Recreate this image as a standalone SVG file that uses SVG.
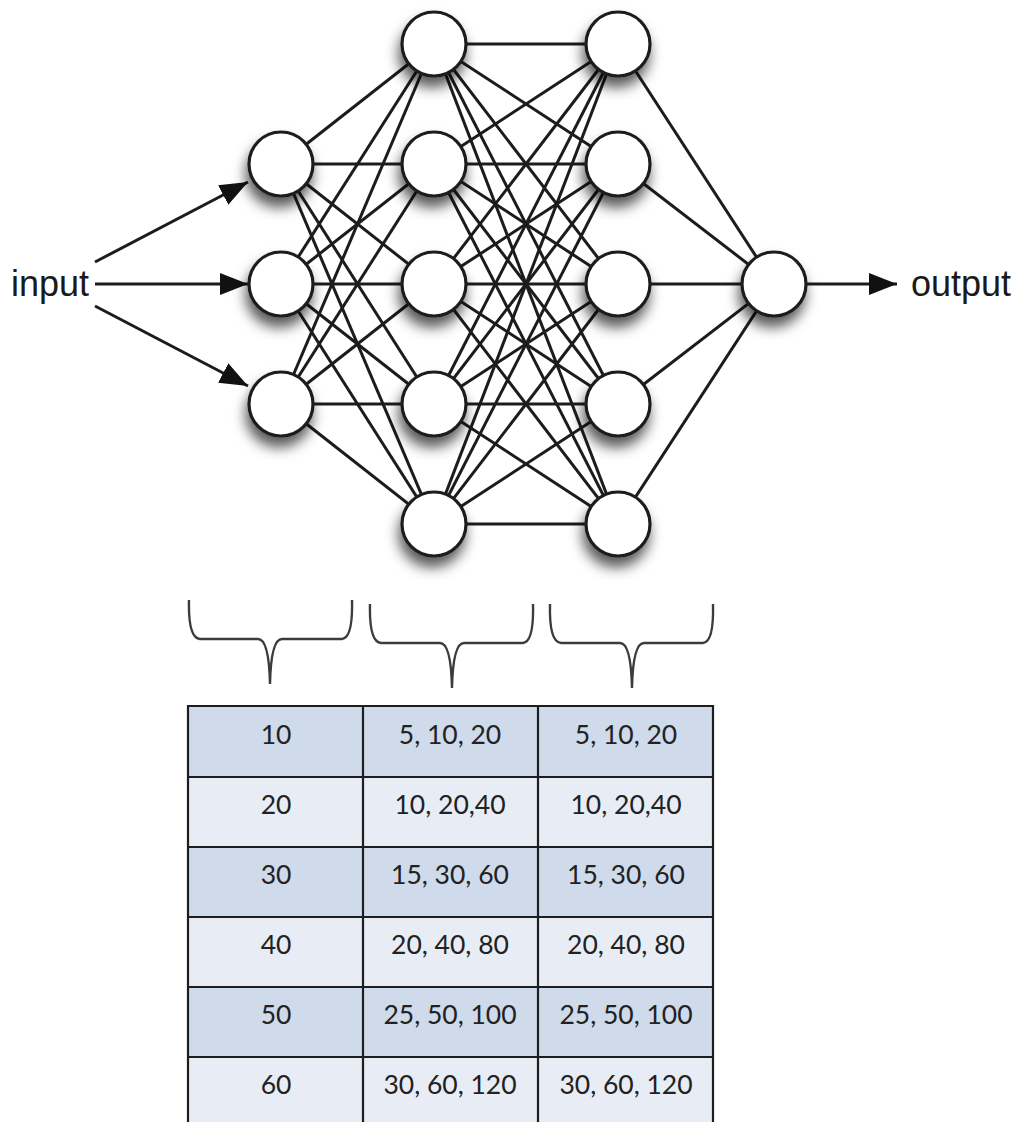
<svg xmlns="http://www.w3.org/2000/svg" width="1022" height="1122" viewBox="0 0 1022 1122">
  <style>
    .edge { stroke: #1c1c1c; stroke-width: 3; fill: none; }
    .arrow { stroke: #1c1c1c; stroke-width: 3; fill: none; }
    .neuron { fill: #ffffff; stroke: #1e1e1e; stroke-width: 3.2; filter: url(#soft); }
    .io { font-family: "Liberation Sans", Arial, sans-serif; font-size: 36px; fill: #1a1a1a; }
    .brace { stroke: #3c3c3c; stroke-width: 2.4; fill: none; }
    .cell { font-family: Lato, "Open Sans", sans-serif; font-size: 26.5px; fill: #222222; text-anchor: middle; }
    .rowA { fill: #cfdaeb; }
    .rowB { fill: #e8edf5; }
    .grid { stroke: #1e1e1e; stroke-width: 2.2; }
  </style>
  <defs>
    <filter id="soft" x="-60%" y="-60%" width="220%" height="240%">
      <feDropShadow dx="-2" dy="10" stdDeviation="6.5" flood-color="#000000" flood-opacity="0.65"/>
    </filter>
    <marker id="head" markerUnits="userSpaceOnUse" markerWidth="28" markerHeight="22" refX="28" refY="11" orient="auto">
      <path d="M0,0 L28,11 L0,22 Z" fill="#111111"/>
    </marker>
  </defs>

  <rect width="1022" height="1122" fill="#ffffff"/>

  <!-- weighted connections between layers -->
  <g id="connectors">
    <!-- input layer to hidden layer 1 -->
    <line class="edge" x1="281" y1="164" x2="434" y2="44"/>
    <line class="edge" x1="281" y1="164" x2="434" y2="164"/>
    <line class="edge" x1="281" y1="164" x2="434" y2="284"/>
    <line class="edge" x1="281" y1="164" x2="434" y2="404"/>
    <line class="edge" x1="281" y1="164" x2="434" y2="524"/>
    <line class="edge" x1="281" y1="284" x2="434" y2="44"/>
    <line class="edge" x1="281" y1="284" x2="434" y2="164"/>
    <line class="edge" x1="281" y1="284" x2="434" y2="284"/>
    <line class="edge" x1="281" y1="284" x2="434" y2="404"/>
    <line class="edge" x1="281" y1="284" x2="434" y2="524"/>
    <line class="edge" x1="281" y1="404" x2="434" y2="44"/>
    <line class="edge" x1="281" y1="404" x2="434" y2="164"/>
    <line class="edge" x1="281" y1="404" x2="434" y2="284"/>
    <line class="edge" x1="281" y1="404" x2="434" y2="404"/>
    <line class="edge" x1="281" y1="404" x2="434" y2="524"/>
    <!-- hidden layer 1 to hidden layer 2 -->
    <line class="edge" x1="434" y1="44" x2="618" y2="44"/>
    <line class="edge" x1="434" y1="44" x2="618" y2="164"/>
    <line class="edge" x1="434" y1="44" x2="618" y2="284"/>
    <line class="edge" x1="434" y1="44" x2="618" y2="404"/>
    <line class="edge" x1="434" y1="44" x2="618" y2="524"/>
    <line class="edge" x1="434" y1="164" x2="618" y2="44"/>
    <line class="edge" x1="434" y1="164" x2="618" y2="164"/>
    <line class="edge" x1="434" y1="164" x2="618" y2="284"/>
    <line class="edge" x1="434" y1="164" x2="618" y2="404"/>
    <line class="edge" x1="434" y1="164" x2="618" y2="524"/>
    <line class="edge" x1="434" y1="284" x2="618" y2="44"/>
    <line class="edge" x1="434" y1="284" x2="618" y2="164"/>
    <line class="edge" x1="434" y1="284" x2="618" y2="284"/>
    <line class="edge" x1="434" y1="284" x2="618" y2="404"/>
    <line class="edge" x1="434" y1="284" x2="618" y2="524"/>
    <line class="edge" x1="434" y1="404" x2="618" y2="44"/>
    <line class="edge" x1="434" y1="404" x2="618" y2="164"/>
    <line class="edge" x1="434" y1="404" x2="618" y2="284"/>
    <line class="edge" x1="434" y1="404" x2="618" y2="404"/>
    <line class="edge" x1="434" y1="404" x2="618" y2="524"/>
    <line class="edge" x1="434" y1="524" x2="618" y2="44"/>
    <line class="edge" x1="434" y1="524" x2="618" y2="164"/>
    <line class="edge" x1="434" y1="524" x2="618" y2="284"/>
    <line class="edge" x1="434" y1="524" x2="618" y2="404"/>
    <line class="edge" x1="434" y1="524" x2="618" y2="524"/>
    <!-- hidden layer 2 to output neuron -->
    <line class="edge" x1="618" y1="44" x2="774" y2="284"/>
    <line class="edge" x1="618" y1="164" x2="774" y2="284"/>
    <line class="edge" x1="618" y1="284" x2="774" y2="284"/>
    <line class="edge" x1="618" y1="404" x2="774" y2="284"/>
    <line class="edge" x1="618" y1="524" x2="774" y2="284"/>
    <!-- input and output arrows -->
    <line class="arrow" x1="95" y1="262" x2="248" y2="182" marker-end="url(#head)"/>
    <line class="arrow" x1="95" y1="284" x2="248" y2="284" marker-end="url(#head)"/>
    <line class="arrow" x1="95" y1="306" x2="248" y2="386" marker-end="url(#head)"/>
    <line class="arrow" x1="806" y1="284" x2="897" y2="284" marker-end="url(#head)"/>
  </g>

  <!-- input layer -->
  <g id="in1"><circle class="neuron" cx="281" cy="164" r="32"/></g>
  <g id="in2"><circle class="neuron" cx="281" cy="284" r="32"/></g>
  <g id="in3"><circle class="neuron" cx="281" cy="404" r="32"/></g>

  <!-- hidden layer 1 -->
  <g id="h1a"><circle class="neuron" cx="434" cy="44" r="32"/></g>
  <g id="h1b"><circle class="neuron" cx="434" cy="164" r="32"/></g>
  <g id="h1c"><circle class="neuron" cx="434" cy="284" r="32"/></g>
  <g id="h1d"><circle class="neuron" cx="434" cy="404" r="32"/></g>
  <g id="h1e"><circle class="neuron" cx="434" cy="524" r="32"/></g>

  <!-- hidden layer 2 -->
  <g id="h2a"><circle class="neuron" cx="618" cy="44" r="32"/></g>
  <g id="h2b"><circle class="neuron" cx="618" cy="164" r="32"/></g>
  <g id="h2c"><circle class="neuron" cx="618" cy="284" r="32"/></g>
  <g id="h2d"><circle class="neuron" cx="618" cy="404" r="32"/></g>
  <g id="h2e"><circle class="neuron" cx="618" cy="524" r="32"/></g>

  <!-- output neuron -->
  <g id="out"><circle class="neuron" cx="774" cy="284" r="32"/></g>

  <!-- labels -->
  <g id="label-input"><text class="io" x="11" y="296">input</text></g>
  <g id="label-output"><text class="io" x="911" y="296">output</text></g>

  <!-- braces grouping each layer -->
  <g id="braces">
    <path class="brace" d="M189,600 Q188,638 200,639 L258,639 Q269,639 270,684 Q271,639 282,639 L342,639 Q353,638 352,600"/>
    <path class="brace" d="M370,604 Q369,642 381,643 L440,643 Q451,643 452,688 Q453,643 464,643 L523,643 Q534,642 533,604"/>
    <path class="brace" d="M550,604 Q549,642 561,643 L620,643 Q631,643 632,688 Q633,643 644,643 L703,643 Q714,642 713,604"/>
  </g>

  <!-- table of layer sizes -->
  <g id="table">
    <rect class="rowA" x="188" y="706" width="525" height="71"/>
    <rect class="rowB" x="188" y="777" width="525" height="70"/>
    <rect class="rowA" x="188" y="847" width="525" height="70"/>
    <rect class="rowB" x="188" y="917" width="525" height="70"/>
    <rect class="rowA" x="188" y="987" width="525" height="70"/>
    <rect class="rowB" x="188" y="1057" width="525" height="65"/>

    <line class="grid" x1="187" y1="706" x2="714" y2="706"/>
    <line class="grid" x1="187" y1="777" x2="714" y2="777"/>
    <line class="grid" x1="187" y1="847" x2="714" y2="847"/>
    <line class="grid" x1="187" y1="917" x2="714" y2="917"/>
    <line class="grid" x1="187" y1="987" x2="714" y2="987"/>
    <line class="grid" x1="187" y1="1057" x2="714" y2="1057"/>
    <line class="grid" x1="188" y1="705" x2="188" y2="1122"/>
    <line class="grid" x1="363" y1="705" x2="363" y2="1122"/>
    <line class="grid" x1="538" y1="705" x2="538" y2="1122"/>
    <line class="grid" x1="713" y1="705" x2="713" y2="1122"/>

    <text class="cell" x="276" y="744">10</text>
    <text class="cell" x="450" y="744">5, 10, 20</text>
    <text class="cell" x="626" y="744">5, 10, 20</text>

    <text class="cell" x="276" y="814">20</text>
    <text class="cell" x="450" y="814">10, 20,40</text>
    <text class="cell" x="626" y="814">10, 20,40</text>

    <text class="cell" x="276" y="884">30</text>
    <text class="cell" x="450" y="884">15, 30, 60</text>
    <text class="cell" x="626" y="884">15, 30, 60</text>

    <text class="cell" x="276" y="954">40</text>
    <text class="cell" x="450" y="954">20, 40, 80</text>
    <text class="cell" x="626" y="954">20, 40, 80</text>

    <text class="cell" x="276" y="1024">50</text>
    <text class="cell" x="450" y="1024">25, 50, 100</text>
    <text class="cell" x="626" y="1024">25, 50, 100</text>

    <text class="cell" x="276" y="1094">60</text>
    <text class="cell" x="450" y="1094">30, 60, 120</text>
    <text class="cell" x="626" y="1094">30, 60, 120</text>
  </g>
</svg>
